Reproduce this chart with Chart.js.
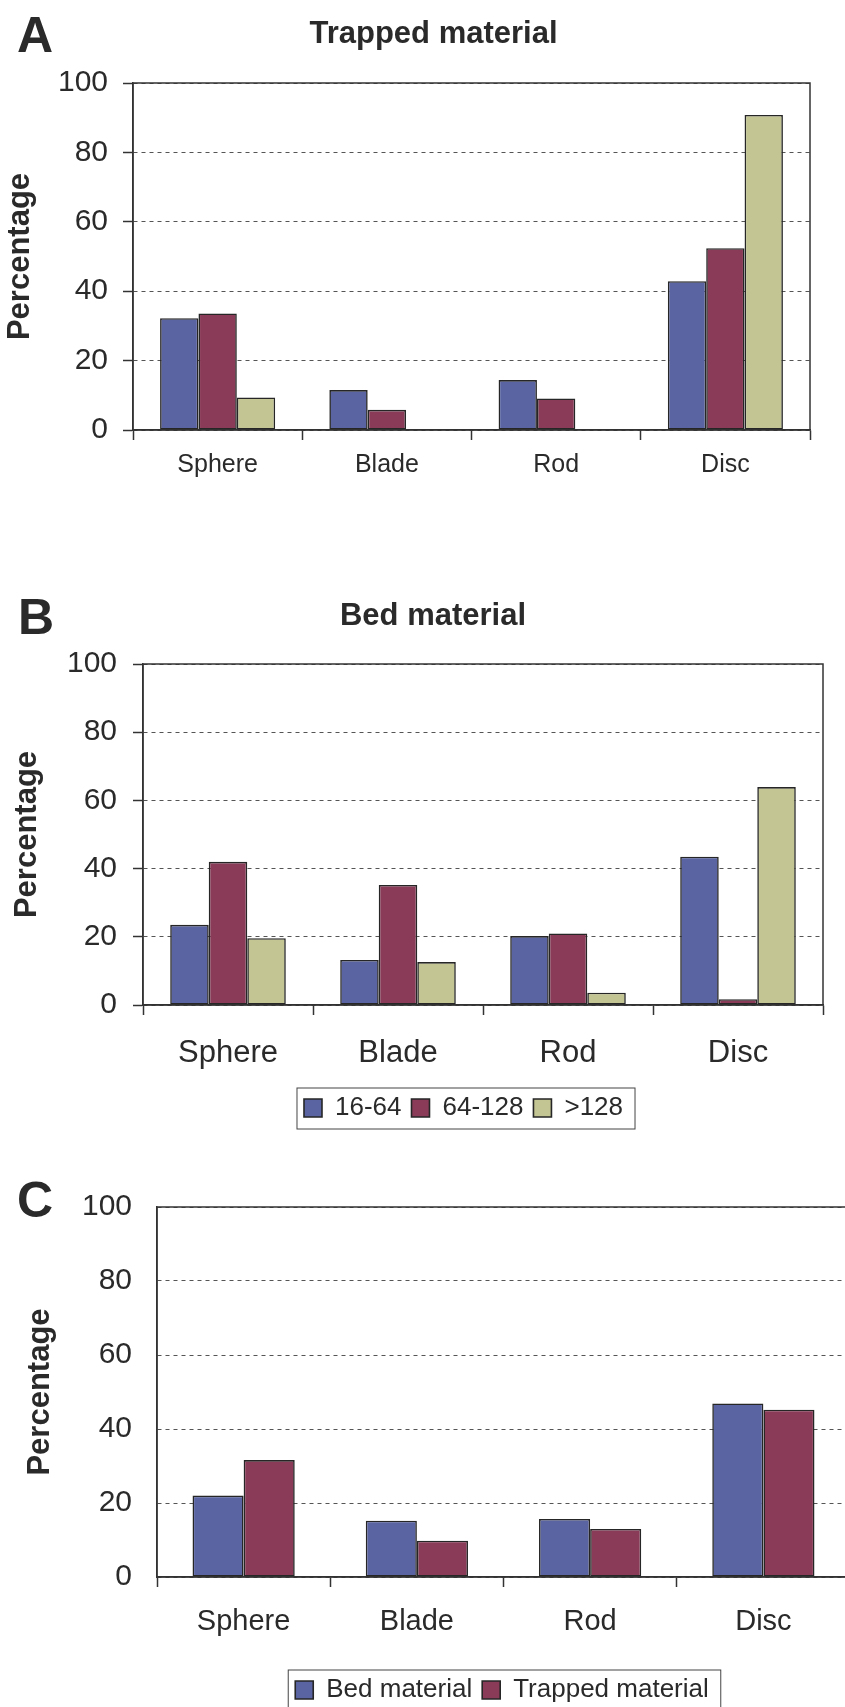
<!DOCTYPE html>
<html>
<head>
<meta charset="utf-8">
<title>Particle shape: trapped vs bed material</title>
<script src="https://cdn.jsdelivr.net/npm/chart.js@4.4.1/dist/chart.umd.min.js"></script>
<style>
  html, body { margin:0; padding:0; background:#fff; width:845px; height:1707px; overflow:hidden; position:relative; }
  canvas { position:absolute; left:0; display:block; }
  .panel-letter { position:absolute; font-family:'Liberation Sans', Arial, Helvetica, sans-serif; font-weight:bold; font-size:50px; line-height:1; color:#2a2a2a; }
</style>
</head>
<body>
<div class="panel-letter" style="left:17px;top:10px">A</div>
<div class="panel-letter" style="left:18px;top:592px">B</div>
<div class="panel-letter" style="left:17px;top:1175px">C</div>
<canvas id="chartA" width="845" height="500" style="top:0px"></canvas>
<canvas id="chartB" width="845" height="571" style="top:560px"></canvas>
<canvas id="chartC" width="870" height="553" style="top:1160px"></canvas>
<script>
// ---------------- data ----------------
const categories = ['Sphere', 'Blade', 'Rod', 'Disc'];
const sizeClasses = ['16-64', '64-128', '>128'];
const yTickValues = [0, 20, 40, 60, 80, 100];

// Panel A: trapped material (% per size class)
const trapped16to64  = [32.2, 11.5, 14.4, 42.9];
const trapped64to128 = [33.6, 5.8, 9.1, 52.4];
const trappedOver128 = [9.4, 0, 0, 90.8];

// Panel B: bed material (% per size class)
const bed16to64  = [23.5, 13.2, 20.2, 43.5];
const bed64to128 = [42.0, 35.2, 21.0, 1.7];
const bedOver128 = [19.6, 12.6, 3.6, 63.9];

// Panel C: all sizes together
const compareSeries = ['Bed material', 'Trapped material'];
const bedAll     = [22.0, 15.2, 15.7, 46.9];
const trappedAll = [31.6, 9.8, 13.0, 45.2];

// ---------------- styling ----------------
const FONT = "'Liberation Sans', Arial, Helvetica, sans-serif";
const INK = '#2a2a2a';
const AXIS = '#333333';
const GRID = '#555555';
const EDGE = '#262626';
const COLORS = ['#5a64a3', '#8a3b58', '#c3c592'];

Chart.defaults.font.family = FONT;
Chart.defaults.color = INK;

const panelFrame = {
  id: 'panelFrame',
  afterLayout(chart, args, opts) {
    const centre = (box, x) => { const dx = x - (box.left + box.right) / 2; box.left += dx; box.right += dx; };
    if (opts.titleCenter != null && chart.titleBlock) centre(chart.titleBlock, opts.titleCenter);
    if (opts.legendCenter != null && chart.legend) centre(chart.legend, opts.legendCenter);
  },
  afterDraw(chart, args, opts) {
    const ctx = chart.ctx, a = chart.chartArea;
    ctx.save();
    ctx.setLineDash([]);
    ctx.strokeStyle = AXIS;
    ctx.lineWidth = 1.5;
    ctx.strokeRect(a.left, a.top, a.right - a.left, a.bottom - a.top);
    const lg = chart.legend;
    if (opts.legendFrame && lg && lg.legendHitBoxes && lg.legendHitBoxes.length) {
      const hb = lg.legendHitBoxes;
      const l = Math.min(...hb.map(h => h.left)) - 7;
      const r = Math.max(...hb.map(h => h.left + h.width)) + 12;
      const t = Math.min(...hb.map(h => h.top)) - 7;
      const b = Math.max(...hb.map(h => h.top + h.height)) + 8;
      ctx.strokeStyle = '#444';
      ctx.lineWidth = 1;
      ctx.strokeRect(l, t, r - l, b - t);
    }
    ctx.restore();
  }
};

function series(label, data, i) {
  return { label, data, backgroundColor: COLORS[i], borderColor: EDGE, borderWidth: 1.6, borderSkipped: false };
}

function makeChart(id, cfg) {
  return new Chart(document.getElementById(id), {
    type: 'bar',
    data: { labels: categories, datasets: cfg.datasets },
    options: {
      responsive: false,
      animation: false,
      devicePixelRatio: 1,
      layout: { padding: cfg.padding },
      datasets: { bar: { categoryPercentage: cfg.catPct, barPercentage: 1 } },
      plugins: {
        title: cfg.title ? { display: true, text: cfg.title, color: INK, font: { size: 31, weight: 'bold' }, padding: cfg.titlePad } : { display: false },
        legend: cfg.legend ? {
          display: true, position: 'bottom',
          labels: { boxWidth: 18, boxHeight: 18, padding: 10, color: INK, font: { size: 26 } }
        } : { display: false },
        tooltip: { enabled: false },
        panelFrame: cfg.frame
      },
      scales: {
        x: {
          offset: true,
          grid: { display: true, offset: true, drawOnChartArea: false, drawTicks: true, tickLength: 10, tickColor: AXIS, tickWidth: 1.5 },
          border: { display: true, color: AXIS, width: 1.5 },
          ticks: { font: { size: cfg.xFont }, color: INK, padding: cfg.xPad, maxRotation: 0, autoSkip: false },
          afterFit: s => { s.height = cfg.xHeight; }
        },
        y: {
          min: 0, max: 100,
          afterBuildTicks: s => { s.ticks = yTickValues.map(v => ({ value: v })); },
          ticks: { font: { size: 30 }, color: INK, padding: cfg.yPad },
          grid: { color: GRID, lineWidth: 1, drawTicks: cfg.yTicks, tickLength: 10, tickColor: AXIS, tickWidth: 1.5 },
          border: { display: true, color: AXIS, width: 1.5, dash: [4, 4] },
          title: { display: true, text: 'Percentage', color: INK, font: { size: 31, weight: 'bold' }, padding: { top: cfg.yTitlePad, bottom: 0 } },
          afterFit: s => { s.width = cfg.yWidth; }
        }
      }
    },
    plugins: [panelFrame]
  });
}

makeChart('chartA', {
  datasets: [series(sizeClasses[0], trapped16to64, 0), series(sizeClasses[1], trapped64to128, 1), series(sizeClasses[2], trappedOver128, 2)],
  title: 'Trapped material', titlePad: { top: 15.5, bottom: 30.3 },
  padding: { top: 0, right: 35, bottom: 0, left: 0 },
  catPct: 0.68, legend: false,
  xFont: 25, xPad: 10.5, xHeight: 70,
  yPad: 15, yTicks: true, yWidth: 133, yTitlePad: 2,
  frame: { titleCenter: 433.5 }
});

makeChart('chartB', {
  datasets: [series(sizeClasses[0], bed16to64, 0), series(sizeClasses[1], bed64to128, 1), series(sizeClasses[2], bedOver128, 2)],
  title: 'Bed material', titlePad: { top: 37.5, bottom: 29.3 },
  padding: { top: 0, right: 22, bottom: 0, left: 0 },
  catPct: 0.68, legend: true,
  xFont: 31, xPad: 19.7, xHeight: 80,
  yPad: 16, yTicks: true, yWidth: 143, yTitlePad: 9,
  frame: { titleCenter: 433, legendCenter: 463.5, legendFrame: true }
});

makeChart('chartC', {
  datasets: [series(compareSeries[0], bedAll, 0), series(compareSeries[1], trappedAll, 1)],
  title: null,
  padding: { top: 47, right: 20, bottom: 0, left: 0 },
  catPct: 0.59, legend: true,
  xFont: 29, xPad: 17.6, xHeight: 90,
  yPad: 25, yTicks: false, yWidth: 157, yTitlePad: 21.5,
  frame: { legendCenter: 502, legendFrame: true }
});
</script>
</body>
</html>
